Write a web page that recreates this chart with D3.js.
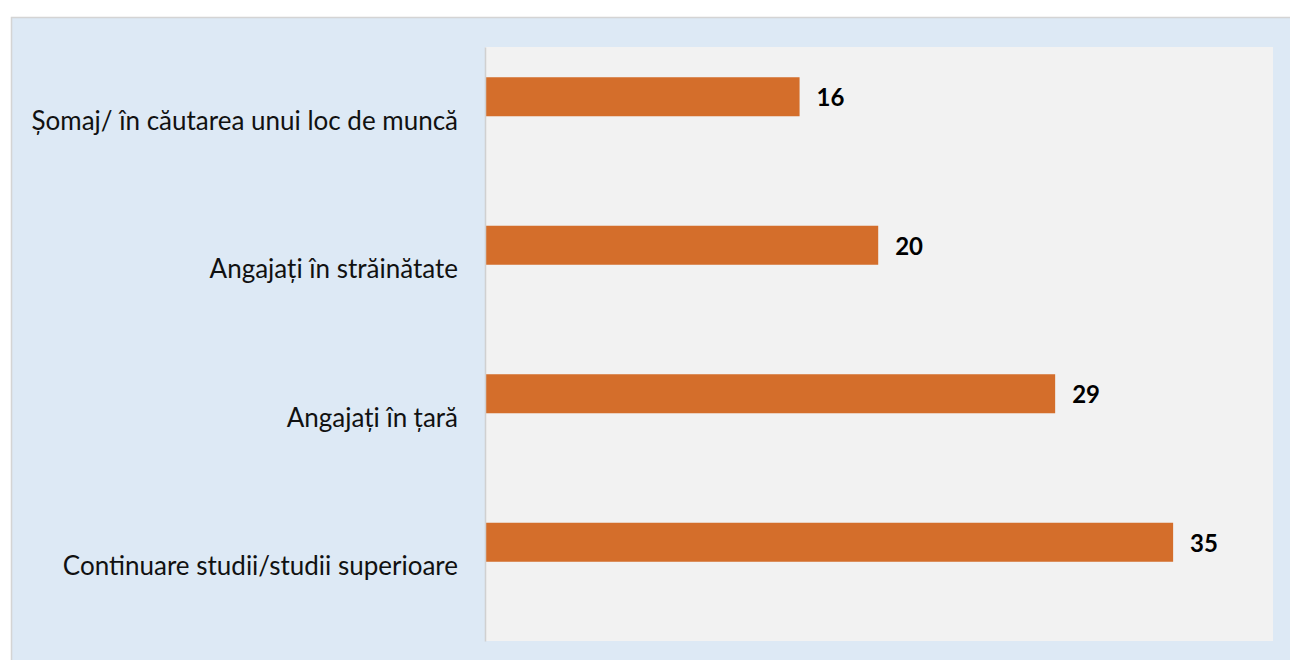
<!DOCTYPE html>
<html>
<head>
<meta charset="utf-8">
<script src="https://cdnjs.cloudflare.com/ajax/libs/d3/7.8.5/d3.min.js"></script>
<style>
  body { margin: 0; background: #fff; }
  svg { display: block; font-family: Lato, "Open Sans", sans-serif; }
</style>
</head>
<body>
<div id="chart"></div>
<script>
// categories, top to bottom
const categories = [
  "Șomaj/ în căutarea unui loc de muncă",
  "Angajați în străinătate",
  "Angajați în țară",
  "Continuare studii/studii superioare"
];
const values = [16, 20, 29, 35];

const width = 1290;
const height = 660;

const svg = d3.select("#chart")
  .append("svg")
  .attr("width", width)
  .attr("height", height);

// outer chart area
svg.append("rect")
  .attr("x", 11.5)
  .attr("y", 17.5)
  .attr("width", width)
  .attr("height", height)
  .attr("fill", "#dde9f5")
  .attr("stroke", "#d4d4d4")
  .attr("stroke-width", 1.5);

const plot = { left: 485, top: 47, right: 1273, bottom: 641 };

svg.append("rect")
  .attr("x", plot.left)
  .attr("y", plot.top)
  .attr("width", plot.right - plot.left)
  .attr("height", plot.bottom - plot.top)
  .attr("fill", "#f2f2f2");

const x = d3.scaleLinear()
  .domain([0, 40.08])
  .range([plot.left, plot.right]);

const y = d3.scaleBand()
  .domain(categories)
  .range([plot.top, plot.bottom]);

const barH = 39;
const barOffset = -24.5; // bar centre sits above the category centre

svg.append("g")
  .selectAll("rect")
  .data(values)
  .join("rect")
  .attr("x", x(0))
  .attr("y", (d, i) => y(categories[i]) + y.bandwidth() / 2 + barOffset - barH / 2)
  .attr("width", d => x(d) - x(0))
  .attr("height", barH)
  .attr("fill", "#d46e2b");

// value labels
svg.append("g")
  .selectAll("text")
  .data(values)
  .join("text")
  .attr("x", d => x(d) + 17)
  .attr("y", (d, i) => y(categories[i]) + y.bandwidth() / 2 + barOffset + 1)
  .attr("dy", "0.35em")
  .attr("font-size", 24)
  .attr("font-weight", "bold")
  .attr("fill", "#000")
  .text(d => d);

// category axis
const yAxis = d3.axisLeft(y).tickSize(0).tickPadding(27);
const ga = svg.append("g")
  .attr("transform", `translate(${plot.left},0)`)
  .call(yAxis);
ga.select(".domain").attr("stroke", "#d0d0d0").attr("stroke-width", 1.5);
ga.selectAll("text")
  .attr("font-family", "Lato, 'Open Sans', sans-serif")
  .attr("font-size", 26)
  .attr("fill", "#111");
</script>
</body>
</html>
